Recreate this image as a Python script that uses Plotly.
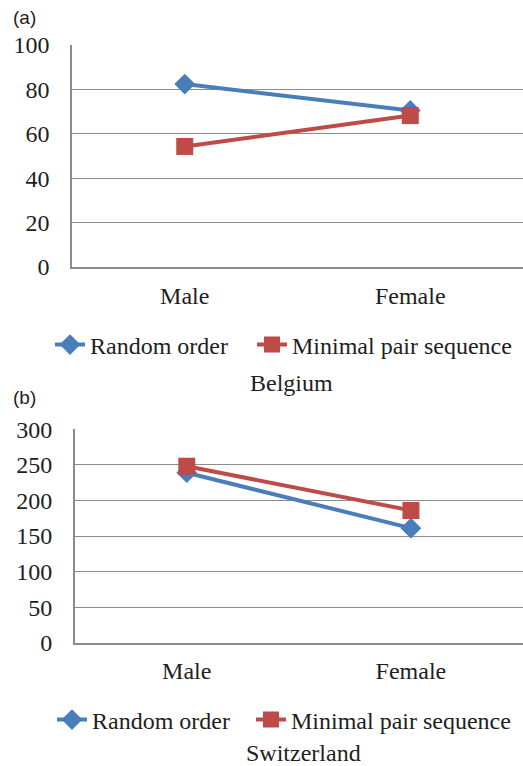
import plotly.graph_objects as go

categories = ["Male", "Female"]
belgium_random = [82.4, 70.5]
belgium_minimal = [54.3, 68.2]
swiss_random = [239, 161]
swiss_minimal = [248, 186]
belgium_ticks = [0, 20, 40, 60, 80, 100]
swiss_ticks = [0, 50, 100, 150, 200, 250, 300]

BLUE = "#4A7EBB"
RED = "#BE4B48"
GRID = "#8C8C8C"
SERIF = "Liberation Serif, Times New Roman, serif"
TXT = "#1E1E1E"
W, H = 523, 766

fig = go.Figure()

def add(x, y, name, color, symbol, size, xa, ya, legend):
    fig.add_trace(go.Scatter(
        x=x, y=y, name=name, mode="lines+markers",
        line=dict(color=color, width=4),
        marker=dict(color=color, symbol=symbol, size=size),
        xaxis=xa, yaxis=ya, legend=legend, showlegend=True,
    ))

add(categories, belgium_random, "Random order", BLUE, "diamond", 16, "x", "y", "legend")
add(categories, belgium_minimal, "Minimal pair sequence", RED, "square", 17, "x", "y", "legend2")
add(categories, swiss_random, "Random order", BLUE, "diamond", 16, "x2", "y2", "legend3")
add(categories, swiss_minimal, "Minimal pair sequence", RED, "square", 17, "x2", "y2", "legend4")

def py(px):
    return (H - px) / H

def xaxis(domain, anchor):
    return dict(range=[-0.5, 1.5], domain=domain, anchor=anchor, showgrid=False, showline=True,
                linecolor=GRID, linewidth=1.5, ticks="", automargin=False, zeroline=False,
                tickfont=dict(family=SERIF, size=24, color=TXT), ticklabelstandoff=6)

def yaxis(domain, anchor, rng, tv):
    return dict(range=rng, tickvals=tv, ticktext=[str(v) for v in tv], domain=domain, anchor=anchor,
                showgrid=True, gridcolor=GRID, gridwidth=1.3, showline=True, linecolor=GRID,
                linewidth=1.5, ticks="", automargin=False, zeroline=False,
                tickfont=dict(family=SERIF, size=24, color=TXT), ticklabelstandoff=16)

def legend(xpix, ypix):
    return dict(orientation="h", font=dict(family=SERIF, size=24, color=TXT),
                bgcolor="rgba(0,0,0,0)", xanchor="left", yanchor="middle",
                x=xpix / W, y=py(ypix), tracegroupgap=0)

def note(text, xpix, ypix, family, size, anchor="center"):
    return dict(text=text, x=xpix / W, y=py(ypix), xref="paper", yref="paper", xanchor=anchor,
                yanchor="middle", showarrow=False, font=dict(family=family, size=size, color=TXT))

fig.update_layout(
    template="none",
    width=W, height=H, margin=dict(l=0, r=0, t=0, b=0, pad=0),
    paper_bgcolor="white", plot_bgcolor="white",
    font=dict(family=SERIF, size=24, color=TXT),
    xaxis=xaxis([72 / W, 1.0], "y"),
    yaxis=yaxis([py(267), py(45)], "x", [0, 100], belgium_ticks),
    xaxis2=xaxis([74.7 / W, 1.0], "y2"),
    yaxis2=yaxis([py(642.7), py(429.3)], "x2", [0, 300], swiss_ticks),
    legend=legend(50, 345),
    legend2=legend(252, 345),
    legend3=legend(52, 720),
    legend4=legend(251, 720),
    annotations=[
        note("(a)", 11, 17, "Liberation Sans", 19, "left"),
        note("(b)", 11, 397, "Liberation Sans", 19, "left"),
        note("Belgium", 291, 383, SERIF, 24),
        note("Switzerland", 303, 753, SERIF, 24),
    ],
)

fig.write_html("out.html")
